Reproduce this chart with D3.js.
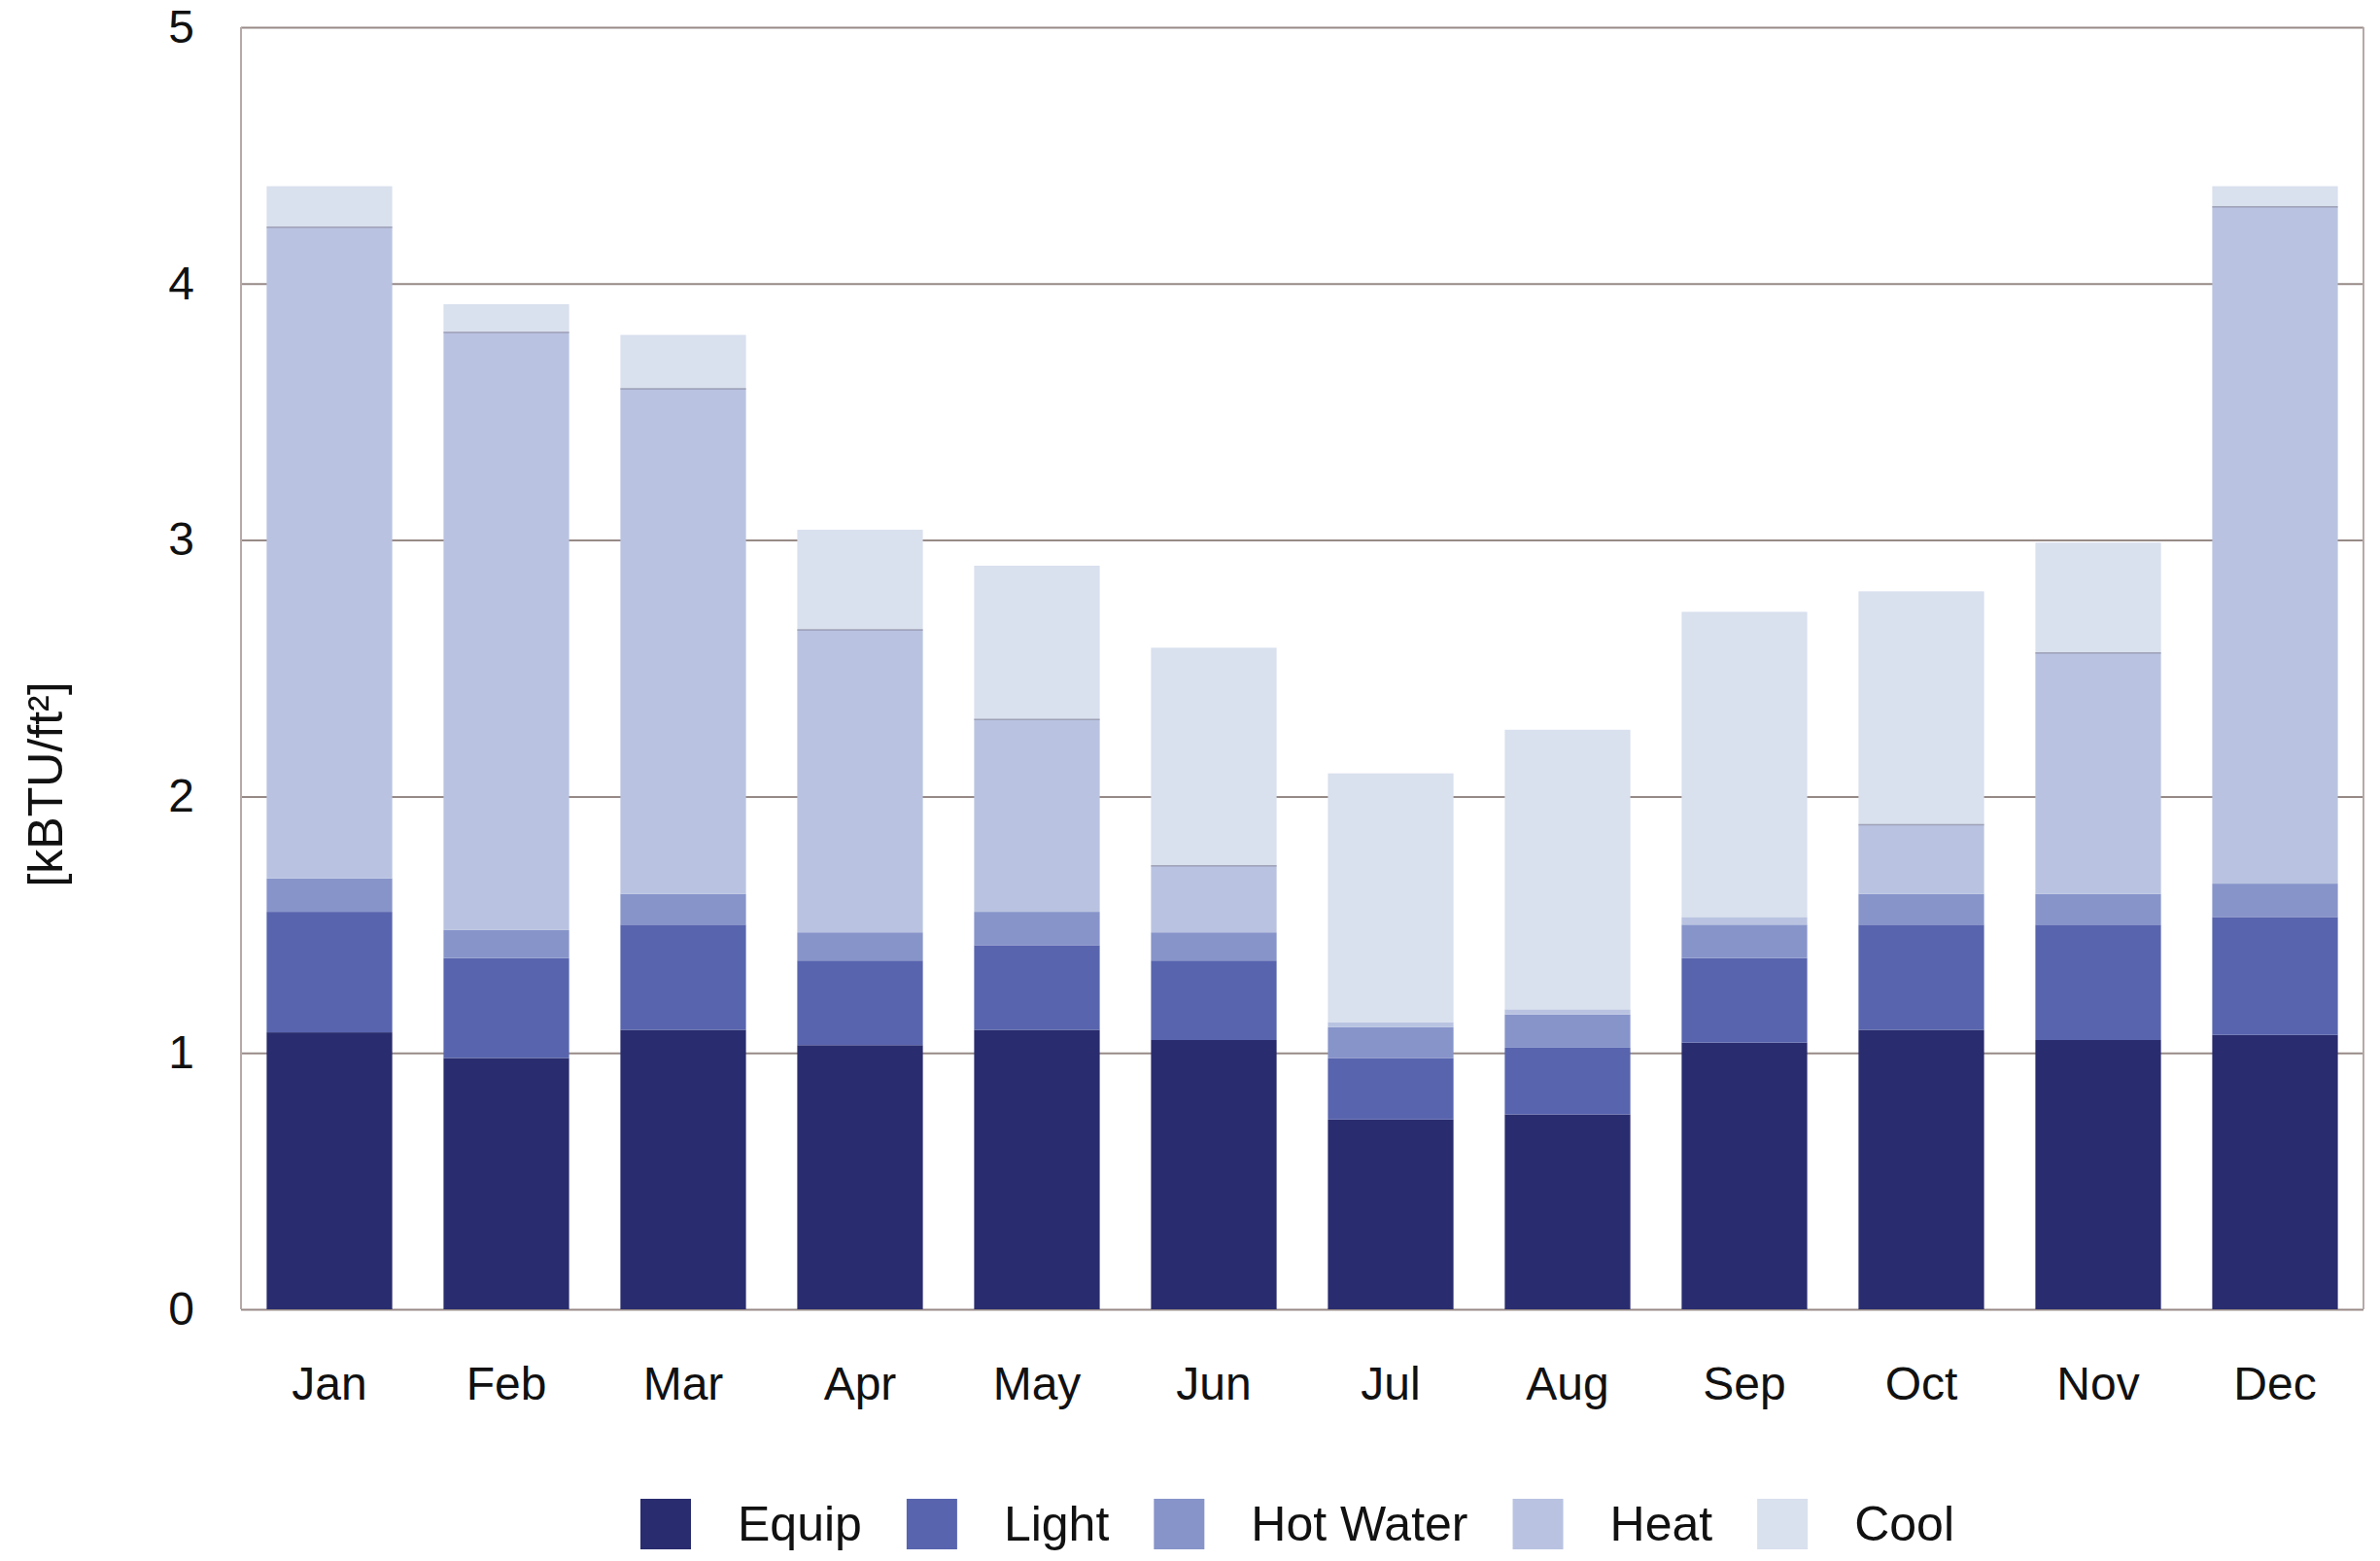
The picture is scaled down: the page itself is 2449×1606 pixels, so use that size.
<!DOCTYPE html>
<html>
<head>
<meta charset="utf-8">
<script src="https://cdn.jsdelivr.net/npm/d3@7"></script>
<style>
  body { margin: 0; background: #fff; }
  svg { display: block; font-family: "Liberation Sans", Arial, sans-serif; }
</style>
</head>
<body>
<svg width="2449" height="1606"></svg>
<script>
// monthly energy use, kBTU/ft2
var months = ["Jan", "Feb", "Mar", "Apr", "May", "Jun", "Jul", "Aug", "Sep", "Oct", "Nov", "Dec"];
var seriesNames = ["Equip", "Light", "Hot Water", "Heat", "Cool"];
var equip    = [1.08, 0.98, 1.09, 1.03, 1.09, 1.05, 0.74, 0.76, 1.04, 1.09, 1.05, 1.07];
var light    = [0.47, 0.39, 0.41, 0.33, 0.33, 0.31, 0.24, 0.26, 0.33, 0.41, 0.45, 0.46];
var hotWater = [0.13, 0.11, 0.12, 0.11, 0.13, 0.11, 0.12, 0.13, 0.13, 0.12, 0.12, 0.13];
var heat     = [2.54, 2.33, 1.97, 1.18, 0.75, 0.26, 0.02, 0.02, 0.03, 0.27, 0.94, 2.64];
var cool     = [0.16, 0.11, 0.21, 0.39, 0.60, 0.85, 0.97, 1.09, 1.19, 0.91, 0.43, 0.08];
var yTicks   = [0, 1, 2, 3, 4, 5];

var colors = ["#292c6e", "#5864ae", "#8794ca", "#b9c3e1", "#d9e0ee"];

var svg = d3.select("svg");
var plotLeft = 248, plotRight = 2432, plotTop = 28, plotBottom = 1347;

// build rows for the stack
var rows = months.map(function(m, i) {
    return { month: m, "Equip": equip[i], "Light": light[i], "Hot Water": hotWater[i], "Heat": heat[i], "Cool": cool[i] };
});
var stacked = d3.stack().keys(seriesNames)(rows);

var xScale = d3.scaleBand().domain(months).range([plotLeft, plotRight]).paddingInner(0.29).paddingOuter(0.145);
var yScale = d3.scaleLinear().domain([0, 5]).range([plotBottom, plotTop]);

// gridlines + y tick labels
var yAxis = svg.append("g")
    .attr("transform", "translate(" + plotLeft + ",0)")
    .call(d3.axisLeft(yScale).tickValues(yTicks).tickSize(-(plotRight - plotLeft)).tickPadding(48).tickFormat(d3.format("d")));
yAxis.select(".domain").remove();
yAxis.selectAll("line").attr("stroke", "#978a86").attr("stroke-width", 2);
yAxis.selectAll("text").attr("font-size", 48).attr("fill", "#111");

// frame sides
svg.append("line").attr("x1", plotLeft).attr("x2", plotLeft).attr("y1", plotTop).attr("y2", plotBottom)
    .attr("stroke", "#b5aaa7").attr("stroke-width", 2);
svg.append("line").attr("x1", plotRight).attr("x2", plotRight).attr("y1", plotTop).attr("y2", plotBottom)
    .attr("stroke", "#b5aaa7").attr("stroke-width", 2);

// bars
svg.append("g").selectAll("g")
    .data(stacked)
    .enter().append("g")
    .attr("fill", function(d, i) { return colors[i]; })
    .selectAll("rect")
    .data(function(d) { return d; })
    .enter().append("rect")
    .attr("x", function(d) { return xScale(d.data.month); })
    .attr("y", function(d) { return yScale(d[1]); })
    .attr("width", xScale.bandwidth())
    .attr("height", function(d) { return yScale(d[0]) - yScale(d[1]); });

// thin seam between heat and cool, as in the original
svg.append("g").selectAll("line")
    .data(stacked[3].filter(function(d) { return d[1] - d[0] > 0.1; }))
    .enter().append("line")
    .attr("x1", function(d) { return xScale(d.data.month); })
    .attr("x2", function(d) { return xScale(d.data.month) + xScale.bandwidth(); })
    .attr("y1", function(d) { return yScale(d[1]); })
    .attr("y2", function(d) { return yScale(d[1]); })
    .attr("stroke", "#8a8aa0").attr("stroke-width", 1.5).attr("opacity", 0.7);

// month labels
var xAxis = svg.append("g")
    .attr("transform", "translate(0," + plotBottom + ")")
    .call(d3.axisBottom(xScale).tickSize(0));
xAxis.select(".domain").remove();
xAxis.selectAll("text").attr("y", 93).attr("dy", 0).attr("font-size", 48).attr("fill", "#111");

// y axis title
svg.append("text")
    .attr("transform", "translate(64,807) rotate(-90)")
    .attr("text-anchor", "middle")
    .attr("font-size", 50)
    .attr("fill", "#111")
    .text("[kBTU/ft²]");

// legend, laid out left to right
var legend = svg.append("g");
var lx = 659;
seriesNames.forEach(function(name, i) {
    legend.append("rect")
        .attr("x", lx).attr("y", 1542)
        .attr("width", 52).attr("height", 52)
        .attr("fill", colors[i]);
    var t = legend.append("text")
        .attr("x", lx + 100).attr("y", 1585)
        .attr("font-size", 50)
        .attr("fill", "#111")
        .text(name);
    lx = lx + 100 + t.node().getComputedTextLength() + 46;
});
</script>
</body>
</html>
